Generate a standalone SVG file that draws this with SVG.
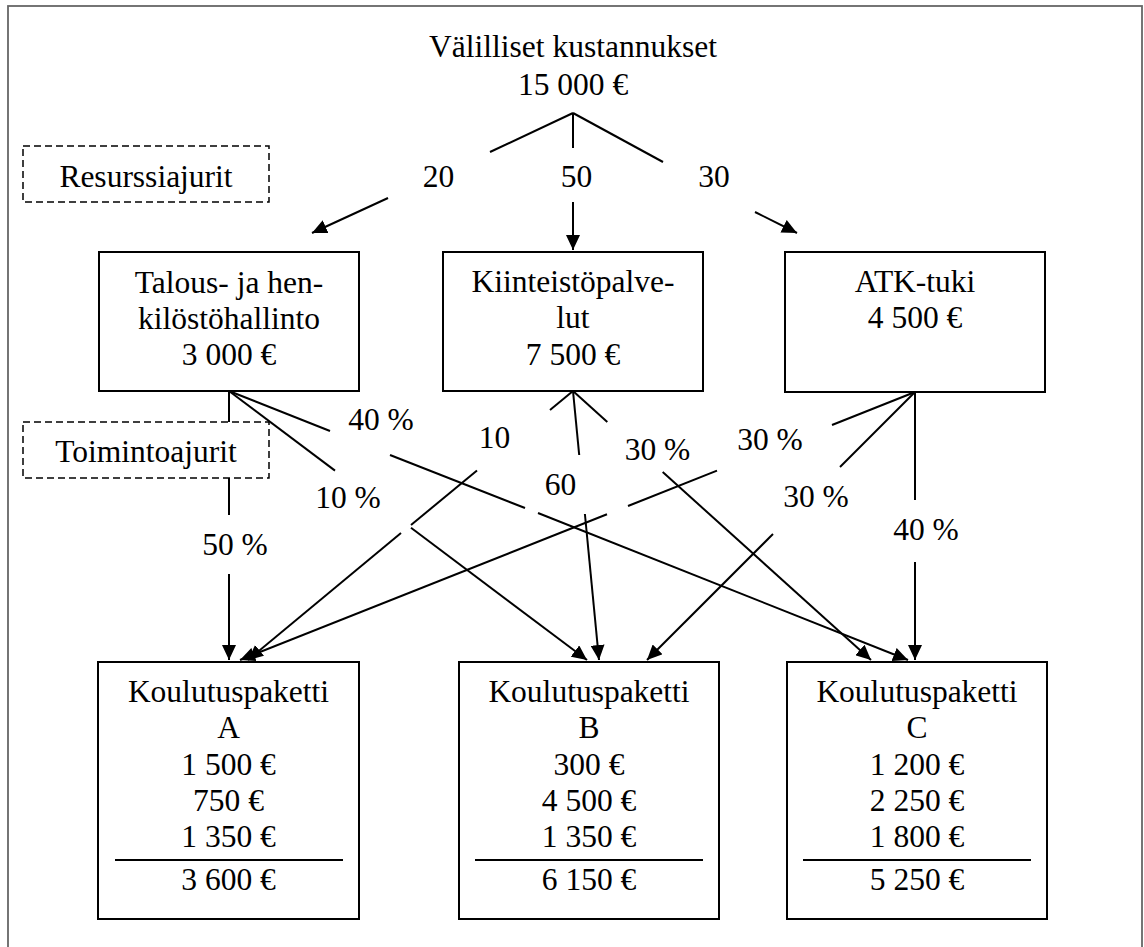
<svg xmlns="http://www.w3.org/2000/svg" width="1144" height="947" viewBox="0 0 1144 947">
<style>
text{font-family:"Liberation Serif","Times New Roman",serif;font-size:31.5px;fill:#000;text-anchor:middle}
.box{fill:#fff;stroke:#000;stroke-width:2}
.dash{fill:#fff;stroke:#000;stroke-width:1.5;stroke-dasharray:7 4}
.sep{stroke:#000;stroke-width:2}
.c line{stroke:#000;stroke-width:2;fill:none}
.c line.a{marker-end:url(#ah)}
</style>
<defs>
<marker id="ah" markerUnits="userSpaceOnUse" viewBox="0 0 15 14" refX="15" refY="7" markerWidth="15" markerHeight="14" orient="auto">
<path d="M0,0 L15,7 L0,14 z" fill="#000"/>
</marker>
</defs>
<rect x="0" y="0" width="1144" height="947" fill="#fff"/>
<rect id="frame" x="8" y="6" width="1134" height="960" fill="none" stroke="#666" stroke-width="1.8"/>

<g id="title">
<text x="573" y="57">Välilliset kustannukset</text>
<text x="573" y="95">15 000 €</text>
</g>

<g id="driver-resurssi">
<rect class="dash" x="23" y="146" width="246" height="56"/>
<text x="146" y="187">Resurssiajurit</text>
</g>
<g id="driver-toiminto">
<rect class="dash" x="23" y="422" width="246" height="56"/>
<text x="146" y="462">Toimintoajurit</text>
</g>

<g id="box-talous">
<rect class="box" x="99" y="252" width="260" height="139"/>
<text x="229" y="293">Talous- ja hen-</text>
<text x="229" y="329">kilöstöhallinto</text>
<text x="229" y="365">3 000 €</text>
</g>
<g id="box-kiinteisto">
<rect class="box" x="443" y="252" width="260" height="139"/>
<text x="573" y="292">Kiinteistöpalve-</text>
<text x="573" y="328">lut</text>
<text x="573" y="365">7 500 €</text>
</g>
<g id="box-atk">
<rect class="box" x="785" y="252" width="260" height="140"/>
<text x="915" y="292">ATK-tuki</text>
<text x="915" y="328">4 500 €</text>
</g>

<g id="box-a">
<rect class="box" x="98" y="662" width="261" height="257"/>
<text x="228.5" y="702">Koulutuspaketti</text>
<text x="228.5" y="738">A</text>
<text x="228.5" y="775">1 500 €</text>
<text x="228.5" y="811">750 €</text>
<text x="228.5" y="847">1 350 €</text>
<line class="sep" x1="115" y1="860" x2="343" y2="860"/>
<text x="228.5" y="890">3 600 €</text>
</g>
<g id="box-b">
<rect class="box" x="459" y="662" width="260" height="257"/>
<text x="589" y="702">Koulutuspaketti</text>
<text x="589" y="738">B</text>
<text x="589" y="775">300 €</text>
<text x="589" y="811">4 500 €</text>
<text x="589" y="847">1 350 €</text>
<line class="sep" x1="475" y1="860" x2="703" y2="860"/>
<text x="589" y="890">6 150 €</text>
</g>
<g id="box-c">
<rect class="box" x="787" y="662" width="260" height="257"/>
<text x="917" y="702">Koulutuspaketti</text>
<text x="917" y="738">C</text>
<text x="917" y="775">1 200 €</text>
<text x="917" y="811">2 250 €</text>
<text x="917" y="847">1 800 €</text>
<line class="sep" x1="803" y1="860" x2="1031" y2="860"/>
<text x="917" y="890">5 250 €</text>
</g>

<g id="connectors" class="c">
<!-- resource drivers -->
<line x1="573" y1="113" x2="490" y2="152"/>
<line class="a" x1="388" y1="198" x2="312" y2="233"/>
<line x1="573" y1="113" x2="573" y2="148"/>
<line class="a" x1="573" y1="202" x2="573" y2="250"/>
<line x1="573" y1="113" x2="663" y2="162"/>
<line class="a" x1="755" y1="212" x2="797" y2="233"/>
<!-- Talous -->
<line x1="229" y1="391" x2="229" y2="422"/>
<line x1="229" y1="478" x2="229" y2="515"/>
<line class="a" x1="229" y1="574" x2="229" y2="660"/>
<line x1="229" y1="391" x2="330" y2="431"/>
<line x1="390" y1="455" x2="525" y2="508"/>
<line class="a" x1="538" y1="513" x2="908" y2="660"/>
<line x1="229" y1="391" x2="335" y2="470.6"/>
<line class="a" x1="411" y1="527.8" x2="587" y2="660"/>
<!-- Kiinteistö -->
<line x1="573" y1="391" x2="550" y2="410"/>
<line x1="477" y1="470.5" x2="411" y2="525"/>
<line class="a" x1="401" y1="533" x2="248" y2="660"/>
<line x1="573" y1="391" x2="579.2" y2="455"/>
<line class="a" x1="584.9" y1="514" x2="599" y2="660"/>
<line x1="573" y1="391" x2="607.3" y2="422"/>
<line class="a" x1="662.7" y1="472" x2="871" y2="660"/>
<!-- ATK -->
<line x1="915" y1="392" x2="915" y2="500"/>
<line class="a" x1="915" y1="562" x2="915" y2="660"/>
<line x1="915" y1="392" x2="832" y2="425"/>
<line x1="717" y1="470.6" x2="628" y2="506"/>
<line class="a" x1="607" y1="514.3" x2="240" y2="660"/>
<line x1="915" y1="392" x2="840" y2="467"/>
<line class="a" x1="773" y1="534" x2="647" y2="660"/>
</g>

<g id="labels">
<text x="438.5" y="187">20</text>
<text x="576.5" y="187">50</text>
<text x="714" y="187">30</text>
<text x="381" y="430">40 %</text>
<text x="348" y="508">10 %</text>
<text x="235" y="555">50 %</text>
<text x="494.5" y="448">10</text>
<text x="560.5" y="495">60</text>
<text x="657.5" y="460">30 %</text>
<text x="770" y="450">30 %</text>
<text x="816" y="507">30 %</text>
<text x="926" y="540">40 %</text>
</g>
</svg>
